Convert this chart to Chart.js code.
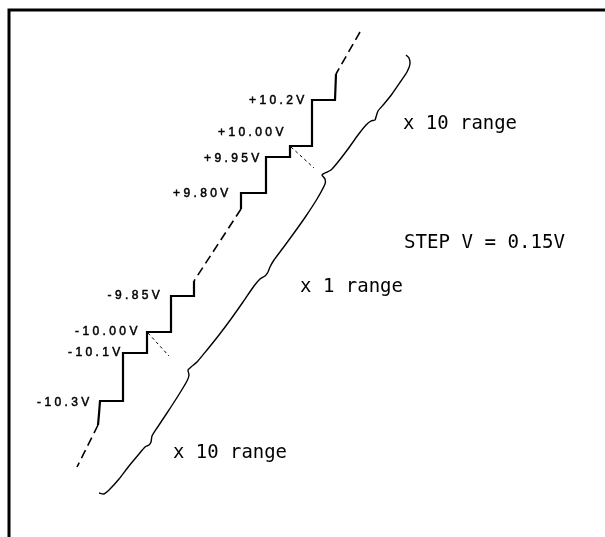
<!DOCTYPE html>
<html><head><meta charset="utf-8">
<script src="https://cdn.jsdelivr.net/npm/chart.js@4.4.0/dist/chart.umd.min.js"></script>
<style>html,body{margin:0;padding:0;background:#fff;overflow:hidden}#wrap{width:605px;height:537px}</style>
</head><body><div id="wrap"><canvas id="c" width="605" height="537"></canvas></div>
<script>
// Diagram data, in the chart's own coordinate units (x to the right, y downward)
const stairTop = [[336,74],[335,100],[312,100],[312,146],[290,146],[290,157],[266,157],[266,193],[241,193],[241,209]];
const stairBottom = [[194,281],[194,296],[171,296],[171,332],[147,332],[147,353],[123,353],[123,401],[100,401],[99,414],[98,425]];
const dashTop = [[360,32],[336,74]];
const dashMid = [[241,209],[194,281]];
const dashBottom = [[98,425],[77,467]];
const guideUpper = [[291,147],[314,168]];
const guideLower = [[148,333],[169,356]];
const rangeCurve = [[406,55],[409,58],[410,64],[407,72],[401,81],[392,94],[384,104],[378,111],[376,117],[375,120],[371,121],[366,125],[358,135],[348,149],[338,162],[331,170],[325,173],[322,175],[325,179],[325,184],[317,199],[306,216],[294,233],[283,248],[274,260],[270,267],[268,272],[265,276],[260,279],[254,286],[243,302],[231,319],[219,335],[207,350],[197,362],[191,367],[188,370],[189,375],[187,381],[178,396],[167,413],[157,428],[152,436],[151,442],[149,445],[145,447],[139,454],[129,466],[119,479],[110,489],[104,494],[99,493]];
const frame = [[605,10],[9,10],[9,537]];
const levelLabels = ['+10.2V','+10.00V','+9.95V','+9.80V','-9.85V','-10.00V','-10.1V','-10.3V'];
const levelAnchors = [[249,101],[218,132.5],[204,159],[173,194],[107.5,296],[75,332],[68,353],[37,402.5]];
const rangeLabels = ['x 10 range','STEP V = 0.15V','x 1 range','x 10 range'];
const rangeAnchors = [[403,128.5],[404,248],[300,292],[173,458]];

const pts = a => a.map(p => ({x:p[0], y:p[1]}));
function line(data, width, dash, tension){
  return {data: pts(data), showLine:true, borderColor:'#000', borderWidth:width, borderDash:dash||[],
          pointRadius:0, fill:false, tension:tension||0, borderCapStyle:'butt', borderJoinStyle:'miter', clip:false};
}

const textPlugin = {
  id:'texts',
  afterDatasetsDraw(chart, args, opts){
    const ctx = chart.ctx, xs = chart.scales.x, ys = chart.scales.y;
    ctx.save();
    ctx.fillStyle = '#000';
    ctx.strokeStyle = '#000';
    ctx.lineWidth = 0.5;
    ctx.textAlign = 'left';
    ctx.textBaseline = 'middle';
    ctx.font = '12px "Liberation Sans"';
    if ('letterSpacing' in ctx) ctx.letterSpacing = '3.4px';
    levelLabels.forEach((t,i) => {
      const px = xs.getPixelForValue(levelAnchors[i][0]), py = ys.getPixelForValue(levelAnchors[i][1]);
      ctx.fillText(t, px, py);
      ctx.strokeText(t, px, py);
    });
    if ('letterSpacing' in ctx) ctx.letterSpacing = '0px';
    ctx.textBaseline = 'alphabetic';
    ctx.font = '20px "DejaVu Sans Mono"';
    rangeLabels.forEach((t,i) => {
      ctx.fillText(t, xs.getPixelForValue(rangeAnchors[i][0]), ys.getPixelForValue(rangeAnchors[i][1]), opts.widths[i]);
    });
    ctx.restore();
  }
};

new Chart(document.getElementById('c'), {
  type:'scatter',
  data:{datasets:[
    line(frame, 3),
    line(stairTop, 2.2),
    line(stairBottom, 2.2),
    line(dashTop, 1.6, [9,5]),
    line(dashMid, 1.6, [9,5]),
    line(dashBottom, 1.6, [9,5]),
    line(guideUpper, 1, [3,3]),
    line(guideLower, 1, [3,3]),
    line(rangeCurve, 1.4, [], 0.2)
  ]},
  options:{
    responsive:false, animation:false, events:[],
    layout:{padding:0},
    plugins:{legend:{display:false}, tooltip:{enabled:false}, texts:{widths:[114,161,103,114]}},
    scales:{
      x:{type:'linear', min:0, max:605, display:false},
      y:{type:'linear', min:0, max:537, reverse:true, display:false}
    }
  },
  plugins:[textPlugin]
});
</script>
</body></html>
